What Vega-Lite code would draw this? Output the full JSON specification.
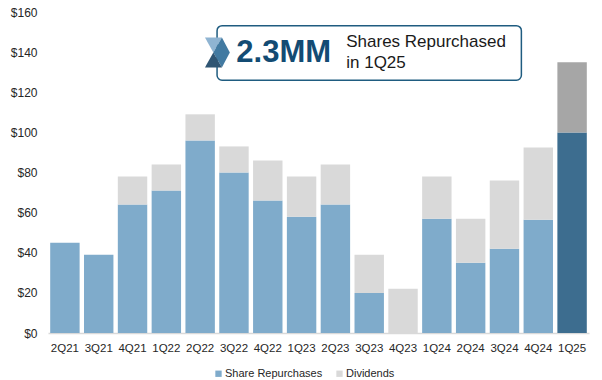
{
"$schema":"https://vega.github.io/schema/vega-lite/v6.json",
"width":541,"height":321,
"padding":{"left":48,"top":12,"right":13,"bottom":47},
"autosize":{"type":"none"},
"background":"white",
"config":{"view":{"stroke":null},"font":"Liberation Sans"},
"resolve":{"scale":{"x":"independent"},"axis":{"x":"independent"}},
"layer":[
{"data":{"values":[
{"quarter":"2Q21","series":"Share Repurchases","group":"Share Repurchases","amount":45,"stack_order":1},
{"quarter":"3Q21","series":"Share Repurchases","group":"Share Repurchases","amount":39,"stack_order":1},
{"quarter":"4Q21","series":"Share Repurchases","group":"Share Repurchases","amount":64,"stack_order":1},
{"quarter":"4Q21","series":"Dividends","group":"Dividends","amount":14,"stack_order":2},
{"quarter":"1Q22","series":"Share Repurchases","group":"Share Repurchases","amount":71,"stack_order":1},
{"quarter":"1Q22","series":"Dividends","group":"Dividends","amount":13,"stack_order":2},
{"quarter":"2Q22","series":"Share Repurchases","group":"Share Repurchases","amount":96,"stack_order":1},
{"quarter":"2Q22","series":"Dividends","group":"Dividends","amount":13,"stack_order":2},
{"quarter":"3Q22","series":"Share Repurchases","group":"Share Repurchases","amount":80,"stack_order":1},
{"quarter":"3Q22","series":"Dividends","group":"Dividends","amount":13,"stack_order":2},
{"quarter":"4Q22","series":"Share Repurchases","group":"Share Repurchases","amount":66,"stack_order":1},
{"quarter":"4Q22","series":"Dividends","group":"Dividends","amount":20,"stack_order":2},
{"quarter":"1Q23","series":"Share Repurchases","group":"Share Repurchases","amount":58,"stack_order":1},
{"quarter":"1Q23","series":"Dividends","group":"Dividends","amount":20,"stack_order":2},
{"quarter":"2Q23","series":"Share Repurchases","group":"Share Repurchases","amount":64,"stack_order":1},
{"quarter":"2Q23","series":"Dividends","group":"Dividends","amount":20,"stack_order":2},
{"quarter":"3Q23","series":"Share Repurchases","group":"Share Repurchases","amount":20,"stack_order":1},
{"quarter":"3Q23","series":"Dividends","group":"Dividends","amount":19,"stack_order":2},
{"quarter":"4Q23","series":"Dividends","group":"Dividends","amount":22,"stack_order":2},
{"quarter":"1Q24","series":"Share Repurchases","group":"Share Repurchases","amount":57,"stack_order":1},
{"quarter":"1Q24","series":"Dividends","group":"Dividends","amount":21,"stack_order":2},
{"quarter":"2Q24","series":"Share Repurchases","group":"Share Repurchases","amount":35,"stack_order":1},
{"quarter":"2Q24","series":"Dividends","group":"Dividends","amount":22,"stack_order":2},
{"quarter":"3Q24","series":"Share Repurchases","group":"Share Repurchases","amount":42,"stack_order":1},
{"quarter":"3Q24","series":"Dividends","group":"Dividends","amount":34,"stack_order":2},
{"quarter":"4Q24","series":"Share Repurchases","group":"Share Repurchases","amount":56.5,"stack_order":1},
{"quarter":"4Q24","series":"Dividends","group":"Dividends","amount":36,"stack_order":2},
{"quarter":"1Q25","series":"Share Repurchases","group":"Share Repurchases 1Q25","amount":100,"stack_order":1},
{"quarter":"1Q25","series":"Dividends","group":"Dividends 1Q25","amount":35,"stack_order":2}
]},
"mark":{"type":"bar"},
"encoding":{
"x":{"field":"quarter","type":"nominal","sort":null,"scale":{"paddingInner":0.13,"paddingOuter":0.065},
"axis":{"title":null,"labelAngle":0,"ticks":false,"domainColor":"#D9D9D9","domainWidth":1.5,"labelColor":"#262626","labelFontSize":11.5,"labelPadding":9,"labelFont":"Liberation Sans"}},
"y":{"field":"amount","type":"quantitative","stack":"zero","scale":{"domain":[0,160],"nice":false},
"axis":{"title":null,"grid":false,"domain":false,"ticks":false,"values":[0,20,40,60,80,100,120,140,160],"format":"$.0f","labelColor":"#262626","labelFontSize":12,"labelPadding":11,"labelFont":"Liberation Sans"}},
"color":{"field":"group","type":"nominal",
"scale":{"domain":["Share Repurchases","Dividends","Share Repurchases 1Q25","Dividends 1Q25"],"range":["#7FABCB","#D9D9D9","#3D6D8F","#A6A6A6"]},
"legend":{"title":null,"orient":"none","legendX":165,"legendY":356,"direction":"horizontal","values":["Share Repurchases","Dividends"],"symbolType":"square","symbolSize":40,"symbolStrokeWidth":0,"labelFontSize":11,"labelColor":"#262626","columnPadding":11,"labelOffset":1,"labelFont":"Liberation Sans"}},
"order":{"field":"stack_order","type":"quantitative"}
}},
{"data":{"values":[{"x0":5,"x1":14,"y0":126,"y1":153.2}]},
"mark":{"type":"rect","fill":"white","stroke":"#1F5C80","strokeWidth":1.5,"cornerRadius":5},
"encoding":{
"x":{"field":"x0","type":"quantitative","scale":{"domain":[0,16],"nice":false,"zero":false},"axis":null},
"x2":{"field":"x1"},
"y":{"field":"y0","type":"quantitative"},
"y2":{"field":"y1"}
}},
{"data":{"values":[{"x":5.01,"y":139.8}]},
"mark":{"type":"point","filled":true,"size":900,"opacity":1,"fill":"#8FB4D2","shape":"M-0.83,-1L0.3,-1L-0.27,0Z"},
"encoding":{"x":{"field":"x","type":"quantitative","scale":{"domain":[0,16],"nice":false,"zero":false},"axis":null},"y":{"field":"y","type":"quantitative"}}},
{"data":{"values":[{"x":5.01,"y":139.8}]},
"mark":{"type":"point","filled":true,"size":900,"opacity":1,"fill":"#427AA1","shape":"M0.3,-1L0.83,0L0.3,1L-0.27,0Z"},
"encoding":{"x":{"field":"x","type":"quantitative","scale":{"domain":[0,16],"nice":false,"zero":false},"axis":null},"y":{"field":"y","type":"quantitative"}}},
{"data":{"values":[{"x":5.01,"y":139.8}]},
"mark":{"type":"point","filled":true,"size":900,"opacity":1,"fill":"#2F5573","shape":"M-0.27,0L0.3,1L-0.83,1Z"},
"encoding":{"x":{"field":"x","type":"quantitative","scale":{"domain":[0,16],"nice":false,"zero":false},"axis":null},"y":{"field":"y","type":"quantitative"}}},
{"data":{"values":[{"x":5.57,"y":139.5,"label":"2.3MM"}]},
"mark":{"type":"text","align":"left","baseline":"middle","fontSize":31,"fontWeight":"bold","color":"#134B73","font":"Liberation Sans"},
"encoding":{"x":{"field":"x","type":"quantitative","scale":{"domain":[0,16],"nice":false,"zero":false},"axis":null},"y":{"field":"y","type":"quantitative"},"text":{"field":"label"}}},
{"data":{"values":[{"x":8.82,"y":144.8,"label":"Shares Repurchased"},{"x":8.82,"y":134.8,"label":"in 1Q25"}]},
"mark":{"type":"text","align":"left","baseline":"middle","fontSize":17,"color":"#1A1A1A","font":"Liberation Sans"},
"encoding":{"x":{"field":"x","type":"quantitative","scale":{"domain":[0,16],"nice":false,"zero":false},"axis":null},"y":{"field":"y","type":"quantitative"},"text":{"field":"label"}}}
]
}
